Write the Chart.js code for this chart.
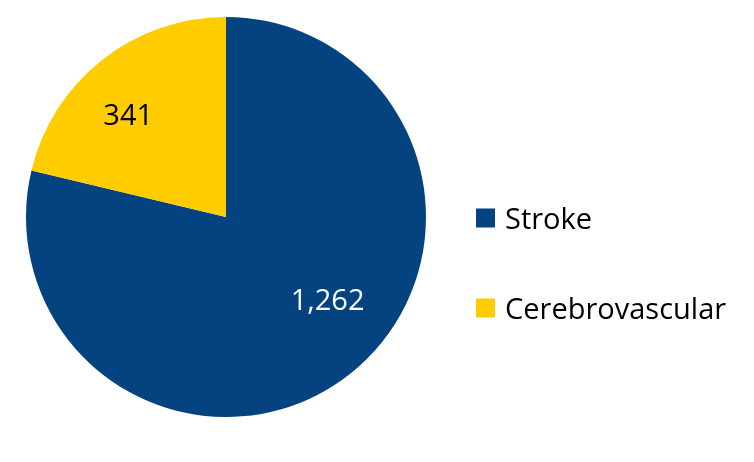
<!DOCTYPE html>
<html>
<head>
<meta charset="utf-8">
<script src="https://cdn.jsdelivr.net/npm/chart.js@4/dist/chart.umd.min.js"></script>
<style>
  html, body { margin: 0; padding: 0; background: #fff; }
  #wrap { width: 754px; height: 462px; }
</style>
</head>
<body>
<div id="wrap"><canvas id="pieChart"></canvas></div>
<script>
// chart data
const categories = ['Stroke', 'Cerebrovascular'];
const counts = [1262, 341];
const sliceColors = ['#044280', '#FFCC00'];
const labelColors = ['#ffffff', '#000000'];
// small nudges so the value labels sit where the original put them
const labelAngleShift = [-12, -6];   // degrees off the slice middle
const labelRadius = [0.66, 0.70];    // fraction of the radius

const fontFamily = '"Open Sans", "Liberation Sans", sans-serif';

// writes each value inside its slice
const sliceLabels = {
    id: 'sliceLabels',
    afterDatasetsDraw(chart) {
        const ctx = chart.ctx;
        const meta = chart.getDatasetMeta(0);
        ctx.save();
        ctx.font = '29px ' + fontFamily;
        ctx.textAlign = 'center';
        ctx.textBaseline = 'middle';
        meta.data.forEach((arc, i) => {
            const mid = (arc.startAngle + arc.endAngle) / 2 + labelAngleShift[i] * Math.PI / 180;
            const r = arc.outerRadius * labelRadius[i];
            ctx.fillStyle = labelColors[i];
            ctx.fillText(counts[i].toLocaleString('en-US'), arc.x + Math.cos(mid) * r, arc.y + Math.sin(mid) * r);
        });
        ctx.restore();
    }
};

// legend to the right of the pie (built-in one ties spacing to indent)
const sideLegend = {
    id: 'sideLegend',
    afterDraw(chart) {
        const ctx = chart.ctx;
        const box = 19;
        const left = chart.chartArea.right + 50;
        const firstY = 218;
        const step = 90;
        ctx.save();
        ctx.font = '29px ' + fontFamily;
        ctx.textAlign = 'left';
        ctx.textBaseline = 'alphabetic';
        chart.data.labels.forEach((label, i) => {
            const cy = firstY + i * step;
            ctx.fillStyle = chart.data.datasets[0].backgroundColor[i];
            ctx.fillRect(left, cy - box / 2, box, box);
            ctx.fillStyle = '#000';
            ctx.fillText(label, left + box + 10, cy + 10.5);
        });
        ctx.restore();
    }
};

const ctx = document.getElementById('pieChart').getContext('2d');
const pieChart = new Chart(ctx, {
    type: 'pie',
    data: {
        labels: categories,
        datasets: [{
            data: counts,
            backgroundColor: sliceColors,
            borderWidth: 0
        }]
    },
    options: {
        responsive: true,
        maintainAspectRatio: false,
        animation: false,
        layout: { padding: { top: 17, bottom: 45, left: 26, right: 328 } },
        plugins: {
            tooltip: { enabled: false },
            legend: { display: false }
        }
    },
    plugins: [sliceLabels, sideLegend]
});
</script>
</body>
</html>
